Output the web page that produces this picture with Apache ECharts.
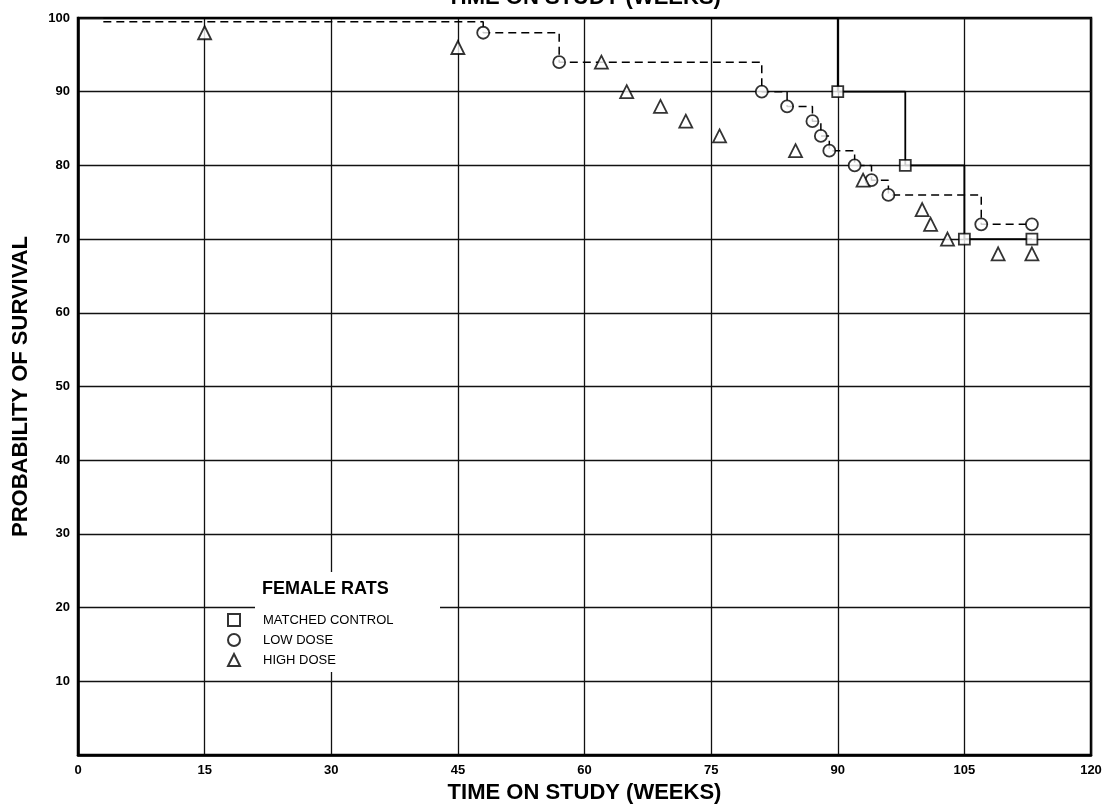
<!DOCTYPE html>
<html>
<head>
<meta charset="utf-8">
<script src="https://cdn.jsdelivr.net/npm/echarts@6/dist/echarts.min.js"></script>
<style>html,body{margin:0;padding:0;background:#fff}#c{width:1108px;height:810px}</style>
</head>
<body>
<div id="c"></div>
<script>
// Data
var ctrlWeeks = [3, 90, 98, 105, 113];
var ctrlSurv  = [100, 90, 80, 70, 70];
var lowWeeks  = [3, 48, 57, 81, 84, 87, 88, 89, 92, 94, 96, 107, 113];
var lowSurv   = [99.5, 98, 94, 90, 88, 86, 84, 82, 80, 78, 76, 72, 72];
var highWeeks = [15, 45, 62, 65, 69, 72, 76, 85, 93, 100, 101, 103, 109, 113];
var highSurv  = [98, 96, 94, 90, 88, 86, 84, 82, 78, 74, 72, 70, 68, 68];
var groupNames = ['MATCHED CONTROL', 'LOW DOSE', 'HIGH DOSE'];
var legendTitle = 'FEMALE RATS';
var axisTitleX = 'TIME ON STUDY (WEEKS)';
var axisTitleY = 'PROBABILITY OF SURVIVAL';

function pairs(xs, ys) { return xs.map(function (x, i) { return [x, ys[i]]; }); }

var chart = echarts.init(document.getElementById('c'));
var markerStyle = { color: '#fff', borderColor: '#000', borderWidth: 1.8 };
var FONT = '"Liberation Sans", Arial, sans-serif';

chart.setOption({
  animation: false,
  backgroundColor: '#fff',
  grid: { left: 78, right: 17, top: 18, bottom: 55, show: true, borderColor: '#000', borderWidth: 2.5, backgroundColor: 'transparent' },
  xAxis: {
    type: 'value', min: 0, max: 120, interval: 15,
    name: axisTitleX, nameLocation: 'middle', nameGap: 24,
    nameTextStyle: { fontFamily: FONT, fontWeight: 'bold', fontSize: 22, color: '#000' },
    axisLine: { lineStyle: { color: '#000', width: 2.5 } },
    axisTick: { show: false },
    axisLabel: { color: '#000', fontWeight: 'bold', fontSize: 13, fontFamily: FONT, margin: 9 },
    splitLine: { show: true, lineStyle: { color: '#111', width: 1.3 } }
  },
  yAxis: {
    type: 'value', min: 0, max: 100, interval: 10,
    name: axisTitleY, nameLocation: 'middle', nameGap: 46,
    nameTextStyle: { fontFamily: FONT, fontWeight: 'bold', fontSize: 22, color: '#000' },
    axisLine: { show: true, lineStyle: { color: '#000', width: 2.5 } },
    axisTick: { show: false },
    axisLabel: { color: '#000', fontWeight: 'bold', fontSize: 13, fontFamily: FONT, margin: 8,
      formatter: function (v) { return v === 0 ? '' : String(v); } },
    splitLine: { show: true, lineStyle: { color: '#111', width: 1.3 } }
  },
  legend: {
    orient: 'vertical', left: 227, top: 613, padding: 0, itemGap: 6,
    itemWidth: 12, itemHeight: 12,
    data: groupNames,
    textStyle: { fontFamily: FONT, fontSize: 13, color: '#000', padding: [0, 0, 0, 18] },
    selectedMode: false
  },
  graphic: [
    { type: 'rect', z: 3, shape: { x: 255, y: 572, width: 185, height: 100 }, style: { fill: '#fff' } },
    { type: 'text', z: 10, style: { text: legendTitle, x: 262, y: 589, textVerticalAlign: 'middle', font: 'bold 18px ' + FONT, fill: '#000' } },
    { type: 'text', z: 10, style: { text: axisTitleX, x: 584, y: 9, textAlign: 'center', textVerticalAlign: 'bottom', font: 'bold 22px ' + FONT, fill: '#000' } }
  ],
  series: [
    { name: 'ctrl-line', type: 'line', step: 'end', data: pairs(ctrlWeeks, ctrlSurv), showSymbol: false,
      lineStyle: { color: '#000', width: 1.8 }, z: 2 },
    { name: 'low-line', type: 'line', step: 'end', data: pairs(lowWeeks, lowSurv), showSymbol: false,
      lineStyle: { color: '#000', width: 1.5, type: [8, 5] }, z: 2 },
    { name: groupNames[0], type: 'scatter', symbol: 'rect', symbolSize: 11, data: pairs(ctrlWeeks.slice(1), ctrlSurv.slice(1)), itemStyle: markerStyle, z: 5 },
    { name: groupNames[1], type: 'scatter', symbol: 'circle', symbolSize: 12, data: pairs(lowWeeks.slice(1), lowSurv.slice(1)), itemStyle: markerStyle, z: 5 },
    { name: groupNames[2], type: 'scatter', symbol: 'triangle', symbolSize: 13, data: pairs(highWeeks, highSurv), itemStyle: markerStyle, z: 5 }
  ]
});
</script>
</body>
</html>
